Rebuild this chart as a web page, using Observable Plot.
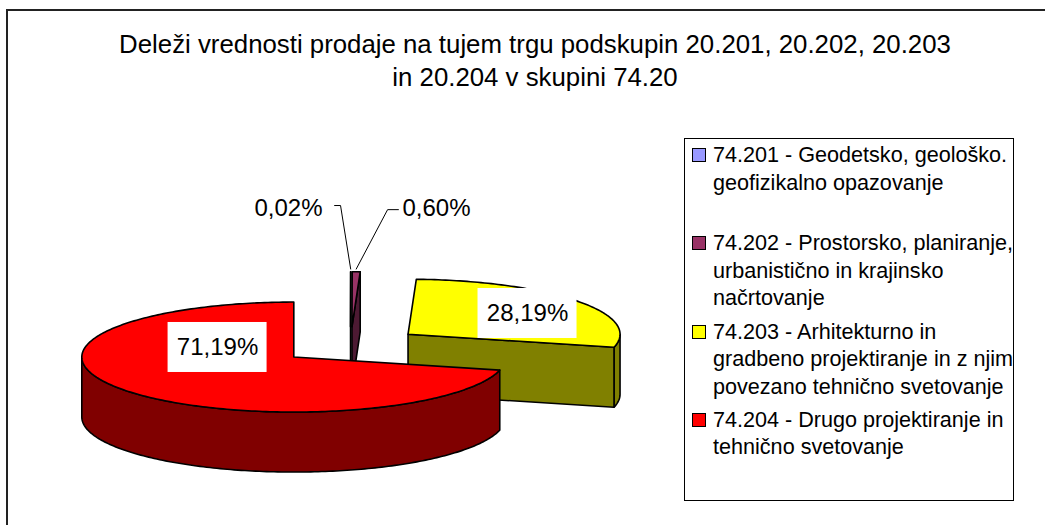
<!DOCTYPE html>
<html>
<head>
<meta charset="utf-8">
<script src="https://cdn.jsdelivr.net/npm/d3@7"></script>
<script src="https://cdn.jsdelivr.net/npm/@observablehq/plot@0.6"></script>
<style>
  html, body { margin: 0; padding: 0; background: #fff; overflow: hidden; }
  body { width: 1045px; height: 525px; position: relative; font-family: "Liberation Sans", Arial, sans-serif; }
  #border { position: absolute; left: 6px; top: 9px; width: 1100px; height: 600px; border: 2px solid #222; box-sizing: border-box; }
  #chart { position: absolute; left: 0; top: 0; }
  #title { position: absolute; left: 25px; top: 28px; width: 1020px; text-align: center; font-size: 25.8px; line-height: 33px; color: #000; }
  #legend { position: absolute; left: 684px; top: 138px; width: 330px; height: 363px; box-sizing: border-box; border: 1px solid #000; padding-top: 2px; background: #fff; }
  .item { position: relative; height: 88.3px; }
  .sw { position: absolute; left: 7px; top: 7px; width: 12px; height: 12px; border: 1px solid #000; }
  .lt { position: absolute; left: 28px; top: 0; font-size: 21.6px; line-height: 27.5px; white-space: pre; color: #000; }
</style>
</head>
<body>
<div id="border"></div>
<div id="chart"></div>
<div id="title"></div>
<div id="legend"></div>
<script>
// ---- data ----
const titleLines = ["Deleži vrednosti prodaje na tujem trgu podskupin 20.201, 20.202, 20.203", "in 20.204 v skupini 74.20"];
const codes = ["74.201", "74.202", "74.203", "74.204"];
const legendLabels = [
  "74.201 - Geodetsko, geološko.\ngeofizikalno opazovanje",
  "74.202 - Prostorsko, planiranje,\nurbanistično in krajinsko\nnačrtovanje",
  "74.203 - Arhitekturno in\ngradbeno projektiranje in z njim\npovezano tehnično svetovanje",
  "74.204 - Drugo projektiranje in\ntehnično svetovanje"
];
const shares = [0.02, 0.60, 28.19, 71.19];
const valueLabels = ["0,02%", "0,60%", "28,19%", "71,19%"];
const topColors = ["#9999FF", "#993366", "#FFFF00", "#FF0000"];
const sideColors = ["#4D4D80", "#4D1A33", "#808000", "#800000"];

// ---- layout (pie units: radius = 1) ----
const EXPLODE = 0.34;      // radial explosion
const DEPTH = 60 / 55;      // pie thickness in y units
const LABEL_SIZE = 24;
const labelLayout = [
  {type: "outside", anchor: "end",   tx: -0.132, ty: 2.5, elbow: [-0.047, 2.545], end: [-0.075, 2.545]},
  {type: "outside", anchor: "start", tx: 0.245,  ty: 2.5, elbow: [0.175, 2.47],   end: [0.226, 2.47]},
  {type: "inside", cx: 0.835, cy: 0.582},
  {type: "inside", cx: -0.627, cy: -0.036}
];
const BOX_W = 49.5 / 212, BOX_H = 25 / 55;

// ---- geometry ----
const TAU = Math.PI * 2;
const total = d3.sum(shares);
let acc = 0;
const slices = shares.map((v, i) => {
  const a0 = acc / total * TAU; acc += v; const a1 = acc / total * TAU;
  const mid = (a0 + a1) / 2;
  return {i, a0, a1, mid, o: {x: EXPLODE * Math.sin(mid), y: EXPLODE * Math.cos(mid)}};
});
const rim = (a, o, z) => ({x: o.x + Math.sin(a), y: o.y + Math.cos(a) - z * DEPTH});
function arc(a0, a1, o, z) {
  const n = Math.max(2, Math.ceil((a1 - a0) / (Math.PI / 180)));
  return d3.range(n + 1).map(k => rim(a0 + (a1 - a0) * k / n, o, z));
}
const polys = [];
const order = slices.slice().sort((a, b) => b.o.y - a.o.y);
for (const s of order) {
  const {a0, a1, o, i} = s;
  const lo = Math.max(a0, Math.PI / 2), hi = Math.min(a1, 3 * Math.PI / 2);
  if (hi > lo) polys.push({pts: arc(lo, hi, o, 0).concat(arc(lo, hi, o, 1).reverse()), fill: sideColors[i]});
  const face = a => [{x: o.x, y: o.y}, rim(a, o, 0), rim(a, o, 1), {x: o.x, y: o.y - DEPTH}];
  if (Math.sin(a0) < -1e-9) polys.push({pts: face(a0), fill: sideColors[i]});
  if (Math.sin(a1) > 1e-9) polys.push({pts: face(a1), fill: sideColors[i]});
  polys.push({pts: [{x: o.x, y: o.y}].concat(arc(a0, a1, o, 0)), fill: topColors[i]});
}

const marks = polys.map(p => Plot.line(p.pts, {x: "x", y: "y", fill: p.fill, stroke: "#000", strokeWidth: 1.6, strokeLinejoin: "round", curve: "linear-closed"}));

// labels
const insideLabels = [], outsideLabels = [], leaders = [];
slices.forEach(s => {
  const L = labelLayout[s.i];
  if (L.type === "inside") insideLabels.push({x: L.cx, y: L.cy, text: valueLabels[s.i]});
  else {
    outsideLabels.push({x: L.tx, y: L.ty, text: valueLabels[s.i], anchor: L.anchor});
    const r = rim(s.mid, s.o, 0);
    leaders.push([{x: r.x, y: r.y + 0.05}, {x: L.elbow[0], y: L.elbow[1]}, {x: L.end[0], y: L.end[1]}]);
  }
});
leaders.forEach(l => marks.push(Plot.line(l, {x: "x", y: "y", stroke: "#000", strokeWidth: 1})));
marks.push(Plot.rect(insideLabels, {x1: d => d.x - BOX_W, x2: d => d.x + BOX_W, y1: d => d.y - BOX_H, y2: d => d.y + BOX_H, fill: "#fff"}));
marks.push(Plot.text(insideLabels, {x: "x", y: "y", text: "text", fontSize: LABEL_SIZE, fill: "#000"}));
marks.push(Plot.text(outsideLabels.filter(d => d.anchor === "end"), {x: "x", y: "y", text: "text", textAnchor: "end", fontSize: LABEL_SIZE, fill: "#000"}));
marks.push(Plot.text(outsideLabels.filter(d => d.anchor === "start"), {x: "x", y: "y", text: "text", textAnchor: "start", fontSize: LABEL_SIZE, fill: "#000"}));

const chart = Plot.plot({
  width: 1045, height: 525,
  marginTop: 0, marginRight: 0, marginBottom: 0, marginLeft: 0,
  style: {background: "transparent", fontFamily: "Liberation Sans, Arial, sans-serif"},
  x: {domain: [-1, 1], range: [138, 562], axis: null},
  y: {domain: [-1, 1], range: [400, 290], axis: null},
  marks
});
document.getElementById("chart").appendChild(chart);

// title
document.getElementById("title").innerHTML = titleLines.map(t => `<div>${t}</div>`).join("");

// legend
const lg = document.getElementById("legend");
codes.forEach((c, i) => {
  const it = document.createElement("div");
  it.className = "item";
  it.innerHTML = `<div class="sw" style="background:${topColors[i]}"></div><div class="lt"></div>`;
  it.querySelector(".lt").textContent = legendLabels[i];
  lg.appendChild(it);
});
</script>
</body>
</html>
